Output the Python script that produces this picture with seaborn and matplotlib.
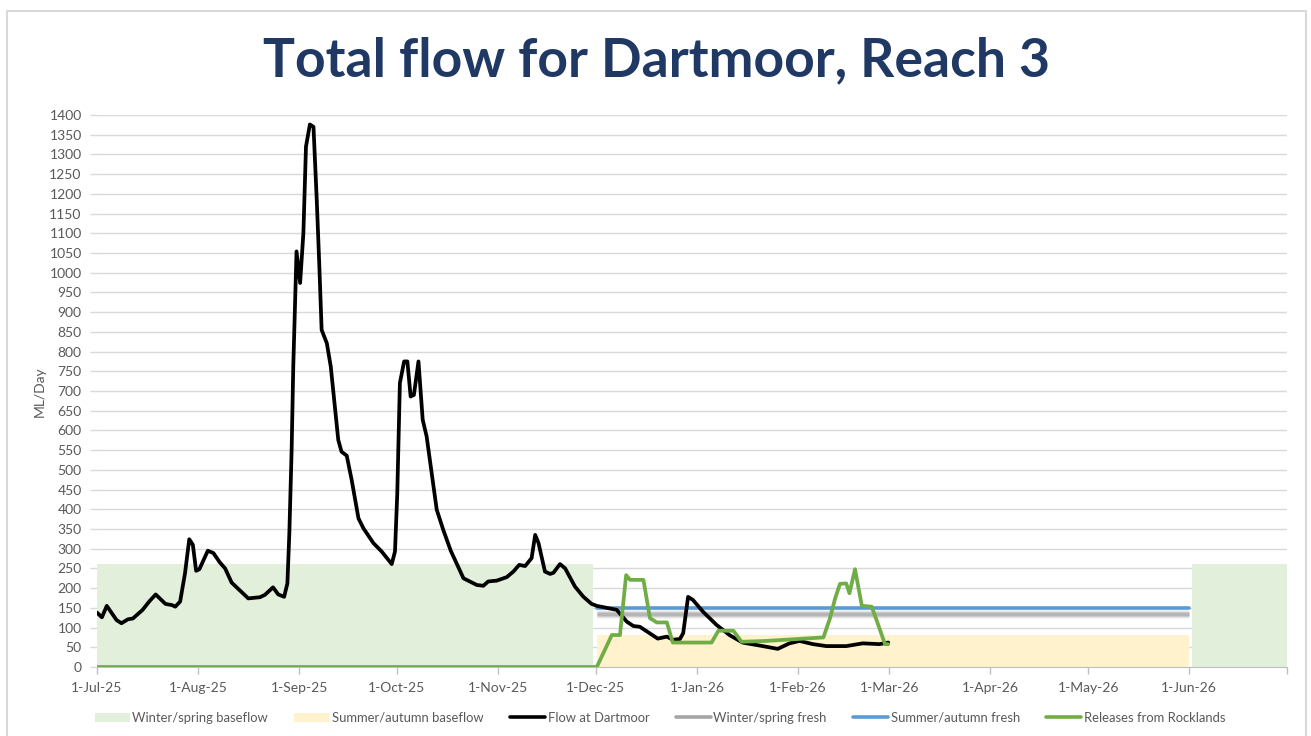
import matplotlib
matplotlib.use("Agg")
import matplotlib.pyplot as plt
import pandas as pd
import seaborn as sns
from matplotlib.lines import Line2D
from matplotlib.patches import Patch, Rectangle

START = pd.Timestamp("2025-07-01")

# Flow at Dartmoor (days after 1-Jul-25, ML/day)
flow_days = [0, 1.5, 3, 6, 7.5, 9.5, 11, 14, 16, 18, 21, 23, 24, 25.5, 27, 28.3, 29.4, 30.4, 31.4,
             34, 35.7, 37.7, 39.3, 41.3, 45, 46.4, 50, 51.5, 54, 55.6, 57.4, 58.4, 59, 59.7, 60.2,
             61.2, 62.3, 63.3, 64.1, 65.3, 66.4, 67.4, 68.2, 68.9, 70.5, 71.7, 74, 75, 76.6, 78.1,
             80.2, 81.7, 84.8, 87.3, 90.4, 91.4, 92.1, 92.9, 94.2, 95.2, 96.2, 97.2, 98.6, 99.9,
             101.1, 104.2, 106.2, 108.5, 112.4, 116.5, 118.5, 120, 122.6, 125.7, 127.7, 129.5,
             131.3, 133.3, 134.4, 135.4, 137.4, 139, 140, 142, 143.6, 146.6, 149.2, 151.7, 153.3,
             159.4, 162.5, 164.5, 166.5, 172, 174.8, 176.6, 178.8, 179.8, 181.3, 182.8, 185.9,
             190, 194, 198, 204.2, 208.8, 212.4, 215.5, 219.6, 223.7, 229.8, 234.9, 240, 242.7]
flow_vals = [138, 126, 155, 119, 111, 121, 123, 145, 166, 184, 160, 157, 153, 166, 238, 324, 310, 244, 248,
             295, 289, 265, 250, 214, 185, 174, 177, 183, 202, 184, 178, 212, 340, 551, 762,
             1054, 974, 1100, 1320, 1376, 1370, 1185, 1016, 855, 821, 762, 576, 546, 536, 475,
             377, 352, 314, 293, 261, 293, 440, 720, 775, 775, 686, 690, 775, 627,
             585, 399, 348, 295, 225, 208, 206, 217, 219, 228, 242, 259,
             256, 276, 335, 315, 242, 236, 239, 261, 250, 204, 178, 160, 155,
             145, 115, 104, 102, 72, 77, 69, 71, 86, 178, 170, 140,
             107, 81, 62, 53, 46, 60, 66, 58, 53, 53, 60, 58, 62]

# Releases from Rocklands
release_days = [0, 153.3, 157.9, 160.4, 162.3, 163.5, 167.6, 169.6, 171.7, 174.8, 176.6, 188.5, 190.6,
                195.2, 197.7, 205, 222.8, 224.8, 226.4, 227.9, 229.8, 230.8, 232.5, 234.6, 237.6,
                239.1, 241.7, 242.7]
release_vals = [0, 0, 81, 81, 233, 221, 221, 124, 113, 113, 62, 62, 92,
                92, 64, 66, 75, 123, 174, 211, 212, 187, 248, 155, 153,
                119, 58, 58]

# Seasonal targets (start day, end day)
winter_base_periods = [(0, 152), (336, 365)]
winter_base_level = 260
summer_base_periods = [(153.3, 335)]
summer_base_level = 80
fresh_period = (153.3, 335)
winter_fresh_level = 135
summer_fresh_level = 150

tick_labels = ["1-Jul-25", "1-Aug-25", "1-Sep-25", "1-Oct-25", "1-Nov-25", "1-Dec-25",
               "1-Jan-26", "1-Feb-26", "1-Mar-26", "1-Apr-26", "1-May-26", "1-Jun-26"]


def to_dates(days):
    return START + pd.to_timedelta(pd.Series(days, dtype=float), unit="D")


sns.set_style("white")
plt.rcParams["font.family"] = ["Lato", "DejaVu Sans"]

GREY_TXT = "#595959"
fig = plt.figure(figsize=(13.11, 7.36), dpi=100)
ax = fig.add_axes([97 / 1311, 1 - 667 / 736, 1190 / 1311, 552 / 736])

for a, b in winter_base_periods:
    ax.fill_between(to_dates([a, b]), 0, winter_base_level, color="#E2EFDA", lw=0, zorder=1)
for a, b in summer_base_periods:
    ax.fill_between(to_dates([a, b]), 0, summer_base_level, color="#FFF2CC", lw=0, zorder=1)

fresh_x = to_dates(list(fresh_period))
# soft shadowed grey line
for lw, al in [(7, 0.12), (5, 0.2), (3.5, 0.35), (2.4, 0.6)]:
    ax.plot(fresh_x, [winter_fresh_level] * 2, color="#A5A5A5", lw=lw, alpha=al,
            solid_capstyle="butt", zorder=2)

fresh_df = pd.DataFrame({"date": fresh_x, "val": [summer_fresh_level] * 2})
sns.lineplot(data=fresh_df, x="date", y="val", color="#5B9BD5", lw=2.6, ax=ax, zorder=3)

flow_df = pd.DataFrame({"date": to_dates(flow_days), "val": flow_vals})
sns.lineplot(data=flow_df, x="date", y="val", color="black", lw=2.7, ax=ax, zorder=4,
             sort=False, estimator=None)

rel_df = pd.DataFrame({"date": to_dates(release_days), "val": release_vals})
sns.lineplot(data=rel_df, x="date", y="val", color="#70AD47", lw=2.7, ax=ax, zorder=5,
             sort=False, estimator=None)

ax.set_xlim(START, START + pd.Timedelta(days=365))
ax.set_ylim(0, 1400)
ax.set_yticks(range(0, 1401, 50))
ax.yaxis.grid(True, color="#D9D9D9", lw=1)
ax.set_axisbelow(True)
month_ticks = pd.date_range(START, periods=12, freq="MS")
ax.set_xticks(month_ticks)
ax.set_xticklabels(tick_labels)
ax.set_xticks([START + pd.Timedelta(days=365)], minor=True)
ax.tick_params(axis="x", which="both", direction="out", length=5, width=1, color="#BFBFBF",
               labelsize=10, labelcolor=GREY_TXT, pad=6, bottom=True)
ax.tick_params(axis="y", direction="out", length=5, width=1, color="#D9D9D9",
               labelsize=10, labelcolor=GREY_TXT, pad=6, left=True)
for side in ["top", "right", "left"]:
    ax.spines[side].set_visible(False)
ax.spines["bottom"].set_color("#BFBFBF")
ax.set_xlabel("")
ax.set_ylabel("")

fig.text(40 / 1311, 1 - 392 / 736, "ML/Day", rotation=90, ha="center", va="center",
         fontsize=10, color=GREY_TXT)
fig.text(656 / 1311, 1 - 61 / 736, "Total flow for Dartmoor, Reach 3", ha="center",
         va="center", fontsize=38.5, fontweight="bold", color="#203864")

handles = [
    Patch(facecolor="#E2EFDA", edgecolor="none", label="Winter/spring baseflow"),
    Patch(facecolor="#FFF2CC", edgecolor="none", label="Summer/autumn baseflow"),
    Line2D([], [], color="black", lw=2.6, label="Flow at Dartmoor"),
    Line2D([], [], color="#A5A5A5", lw=2.6, label="Winter/spring fresh"),
    Line2D([], [], color="#5B9BD5", lw=2.6, label="Summer/autumn fresh"),
    Line2D([], [], color="#70AD47", lw=2.6, label="Releases from Rocklands"),
]
fig.legend(handles=handles, loc="center", bbox_to_anchor=(660 / 1311, 1 - 718 / 736), ncol=6,
           frameon=False, fontsize=9.4, labelcolor=GREY_TXT, handlelength=2.7,
           handletextpad=0.2, columnspacing=2.0)

fig.patches.append(Rectangle((7 / 1311, -0.05), 1299 / 1311, 1.05 - 11.5 / 736,
                             transform=fig.transFigure, fill=False, edgecolor="#D9D9D9", lw=1.5))

fig.savefig("out.png", dpi=100)
